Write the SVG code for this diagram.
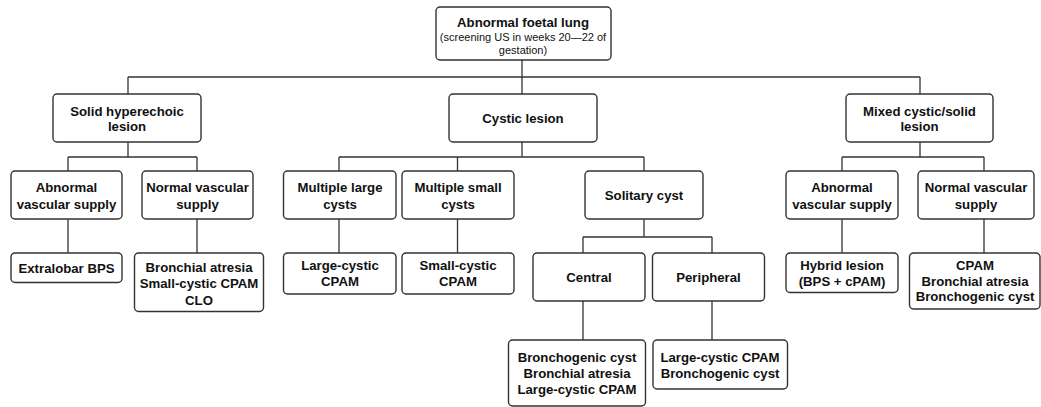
<svg xmlns="http://www.w3.org/2000/svg" width="1041" height="407" viewBox="0 0 1041 407">
<style>
rect.b{fill:#fff;stroke:#333;stroke-width:1.4}
text{font-family:"Liberation Sans",Arial,sans-serif;font-size:13.2px;font-weight:bold;fill:#111;text-anchor:middle}
text.s{font-size:11px;font-weight:normal}
#connectors path{fill:none;stroke:#333;stroke-width:1.3}
</style>
<rect width="1041" height="407" fill="#fff"/>
<g id="connectors">
<path d="M522 60V77M128 77H920M128 77V94M522 77V94M920 77V94"/>
<path d="M128 142V157M68 157H197M68 157V171M197 157V171"/>
<path d="M522 142V157M339 157H644M339 157V171M457.5 157V171M644 157V171"/>
<path d="M920 142V157M842 157H984M842 157V171M984 157V171"/>
<path d="M68 219V253M197 219V253M339 219V253M457.5 219V253M842 219V253M984 219V253"/>
<path d="M644 219V237M583 237H712M583 237V253M712 237V253"/>
<path d="M583 301V340M712 301V340"/>
</g>
<g id="root"><rect class="b" x="436" y="7" width="175" height="53" rx="4"/><text x="523" y="26.5">Abnormal foetal lung</text><text class="s" x="523" y="40.5">(screening US in weeks 20—22 of</text><text class="s" x="523" y="54">gestation)</text></g>
<g id="solid"><rect class="b" x="53" y="94" width="148" height="48" rx="4"/><text x="127" y="116">Solid hyperechoic</text><text x="127" y="131">lesion</text></g>
<g id="cystic"><rect class="b" x="449" y="94" width="148" height="48" rx="4"/><text x="523" y="123">Cystic lesion</text></g>
<g id="mixed"><rect class="b" x="846" y="94" width="147" height="48" rx="4"/><text x="919.5" y="116">Mixed cystic/solid</text><text x="919.5" y="131">lesion</text></g>
<g id="solid-abn"><rect class="b" x="11" y="171" width="111" height="48" rx="4"/><text x="66.5" y="192">Abnormal</text><text x="66.5" y="208.5">vascular supply</text></g>
<g id="solid-norm"><rect class="b" x="142" y="171" width="111" height="48" rx="4"/><text x="197.5" y="192">Normal vascular</text><text x="197.5" y="208.5">supply</text></g>
<g id="mult-large"><rect class="b" x="283.5" y="171" width="112.5" height="48" rx="4"/><text x="340" y="192">Multiple large</text><text x="340" y="208.5">cysts</text></g>
<g id="mult-small"><rect class="b" x="402" y="171" width="112" height="48" rx="4"/><text x="458" y="192">Multiple small</text><text x="458" y="208.5">cysts</text></g>
<g id="solitary"><rect class="b" x="585" y="171" width="118" height="48" rx="4"/><text x="644" y="199.5">Solitary cyst</text></g>
<g id="mixed-abn"><rect class="b" x="786" y="171" width="112" height="48" rx="4"/><text x="842" y="192">Abnormal</text><text x="842" y="208.5">vascular supply</text></g>
<g id="mixed-norm"><rect class="b" x="918" y="171" width="116" height="48" rx="4"/><text x="976" y="192">Normal vascular</text><text x="976" y="208.5">supply</text></g>
<g id="extralobar"><rect class="b" x="11" y="253" width="111" height="29.5" rx="4"/><text x="66.5" y="273">Extralobar BPS</text></g>
<g id="solid-norm-leaf"><rect class="b" x="134.5" y="253" width="129" height="58.5" rx="4"/><text x="199" y="272">Bronchial atresia</text><text x="199" y="288">Small-cystic CPAM</text><text x="199" y="304.5">CLO</text></g>
<g id="large-cpam"><rect class="b" x="283.5" y="253" width="112.5" height="41" rx="4"/><text x="340" y="269.5">Large-cystic</text><text x="340" y="285.5">CPAM</text></g>
<g id="small-cpam"><rect class="b" x="402" y="253" width="112" height="41" rx="4"/><text x="458" y="269.5">Small-cystic</text><text x="458" y="285.5">CPAM</text></g>
<g id="central"><rect class="b" x="533" y="253" width="112" height="48" rx="4"/><text x="589" y="282">Central</text></g>
<g id="peripheral"><rect class="b" x="652.5" y="253" width="112" height="48" rx="4"/><text x="708.5" y="282">Peripheral</text></g>
<g id="hybrid"><rect class="b" x="786" y="253" width="112" height="39.5" rx="4"/><text x="842" y="269.5">Hybrid lesion</text><text x="842" y="285.5">(BPS + cPAM)</text></g>
<g id="mixed-norm-leaf"><rect class="b" x="909.5" y="253" width="130.5" height="56" rx="4"/><text x="975" y="269.5">CPAM</text><text x="975" y="285.5">Bronchial atresia</text><text x="975" y="301">Bronchogenic cyst</text></g>
<g id="central-leaf"><rect class="b" x="508.5" y="340" width="137" height="66" rx="4"/><text x="577" y="362">Bronchogenic cyst</text><text x="577" y="377.5">Bronchial atresia</text><text x="577" y="394">Large-cystic CPAM</text></g>
<g id="peripheral-leaf"><rect class="b" x="653" y="340" width="134.5" height="49" rx="4"/><text x="720" y="362">Large-cystic CPAM</text><text x="720" y="377.5">Bronchogenic cyst</text></g>
</svg>
